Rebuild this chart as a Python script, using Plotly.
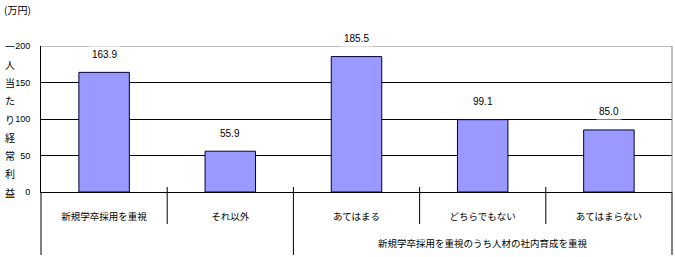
import plotly.graph_objects as go

categories = ["新規学卒採用を重視", "それ以外", "あてはまる", "どちらでもない", "あてはまらない"]
values = [163.9, 55.9, 185.5, 99.1, 85.0]
group_label = "新規学卒採用を重視のうち人材の社内育成を重視"
group_members = [2, 3, 4]
y_title = "一人当たり経常利益"
unit_label = "(万円)"
y_ticks = [0, 50, 100, 150, 200]

FONT = "Liberation Sans, sans-serif"
CJK = "Noto Sans CJK JP, sans-serif"

W, H = 675, 257
ML, MR, MT, MB = 41, 3, 46, 65
PW, PH = W - ML - MR, H - MT - MB

def py(px):  # pixel y (from top) -> paper y
    return (H - MB - px) / PH

def pxx(px):  # pixel x -> paper x
    return (px - ML) / PW

fig = go.Figure()
fig.add_trace(go.Bar(
    x=categories, y=values, width=0.4,
    marker=dict(color="#9999FF", line=dict(color="#000033", width=1)),
    hoverinfo="skip",
))

shapes = []
shapes.append(dict(type="line", xref="paper", yref="y", x0=0, x1=1, y0=200, y1=200,
                   line=dict(color="#808080", width=1), layer="above"))
shapes.append(dict(type="line", xref="paper", yref="paper", x0=1, x1=1, y0=0, y1=1,
                   line=dict(color="#808080", width=1)))
shapes.append(dict(type="line", xref="paper", yref="paper", x0=1, x1=1, y0=0, y1=py(255),
                   line=dict(color="black", width=1)))
shapes.append(dict(type="line", xref="paper", yref="paper", x0=0, x1=0, y0=0, y1=py(255),
                   line=dict(color="black", width=1)))
n = len(categories)
for i in range(1, n):
    long_div = (i == group_members[0])
    shapes.append(dict(type="line", xref="x", yref="paper", x0=i - 0.5, x1=i - 0.5,
                       y0=py(187), y1=py(255) if long_div else py(224),
                       line=dict(color="black", width=1)))

annotations = []
for c, v in zip(categories, values):
    annotations.append(dict(x=c, y=v, xref="x", yref="y", text=f"{v:.1f}",
                            showarrow=False, yshift=18, bgcolor="white",
                            yanchor="middle", borderpad=2,
                            font=dict(family=FONT, size=10, color="black")))
mid = (group_members[0] + group_members[-1]) / 2
annotations.append(dict(x=mid, y=py(243), xref="x", yref="paper", text=group_label,
                        showarrow=False, yanchor="middle",
                        font=dict(family=CJK, size=9.5, color="black")))
k = len(y_title)
for j, ch in enumerate(y_title):
    annotations.append(dict(x=pxx(10), y=1 - j / (k - 1), xref="paper", yref="paper",
                            text=ch, showarrow=False, xanchor="center", yanchor="middle",
                            font=dict(family=CJK, size=10, color="black")))
annotations.append(dict(x=pxx(2), y=py(10), xref="paper", yref="paper", text=unit_label,
                        showarrow=False, xanchor="left", yanchor="middle",
                        font=dict(family=CJK, size=10, color="black")))

fig.update_layout(
    width=W, height=H, margin=dict(l=ML, r=MR, t=MT, b=MB),
    paper_bgcolor="white", plot_bgcolor="white", showlegend=False,
    shapes=shapes, annotations=annotations,
    xaxis=dict(type="category", categoryorder="array", categoryarray=categories,
               showline=True, linecolor="black", linewidth=1, showgrid=False,
               ticks="", ticklabelstandoff=16, range=[-0.5, n - 0.5],
               tickfont=dict(family=CJK, size=9.5, color="black")),
    yaxis=dict(range=[0, 200], tickvals=y_ticks, showline=True, linecolor="black",
               linewidth=1, showgrid=True, gridcolor="black", gridwidth=1,
               zeroline=False, ticks="", ticklabelstandoff=8,
               tickfont=dict(family=FONT, size=9, color="black")),
)
fig.write_html("out.html")
